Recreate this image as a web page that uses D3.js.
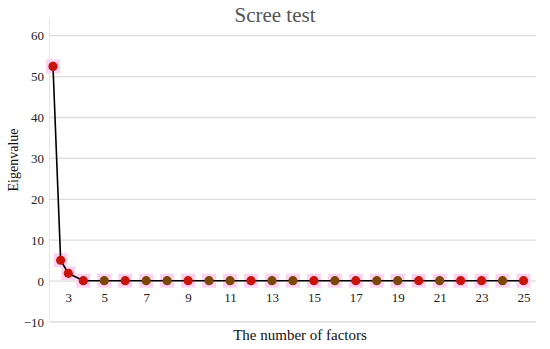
<!DOCTYPE html>
<html lang="en">
<head>
<meta charset="UTF-8">
<title>Scree test</title>
<script src="https://d3js.org/d3.v7.min.js"></script>
<style>
  body { margin: 0; background: #fff; }
  text { font-family: "Liberation Serif", "Times New Roman", serif; }
</style>
</head>
<body>
<div id="chart"></div>
<script>
// data
var factors = d3.range(1, 26);
var eigenvalues = [52.5, 5.1, 1.9, 0.1, 0.1, 0.1, 0.1, 0.1, 0.1, 0.1, 0.1, 0.1, 0.1,
                   0.1, 0.1, 0.1, 0.1, 0.1, 0.1, 0.1, 0.1, 0.1, 0.1, 0.1, 0.1];
// marker colour per point: r = red, b = brown
var markerKind = ["r", "r", "r", "r", "b", "r", "b", "b", "r", "b", "b", "r", "b",
                  "b", "r", "b", "r", "b", "b", "r", "b", "r", "r", "b", "r"];
var yTicks = [-10, 0, 10, 20, 30, 40, 50, 60];
var xTicks = [3, 5, 7, 9, 11, 13, 15, 17, 19, 21, 23, 25];

var W = 550, H = 349;
var svg = d3.select("#chart").append("svg")
    .attr("width", W).attr("height", H);

// first three factors sit squeezed against the axis in the original
var x = d3.scaleLinear().domain([1, 3, 4, 25]).range([53, 68.3, 83.3, 523.5]);
var y = d3.scaleLinear().domain([-10, 60]).range([322, 35.7]);

// grid
svg.append("g").selectAll("line")
    .data(yTicks).enter().append("line")
    .attr("x1", 50).attr("x2", 536)
    .attr("y1", function(d) { return y(d); })
    .attr("y2", function(d) { return y(d); })
    .attr("stroke", "#dcdcdc").attr("stroke-width", 1.3);

svg.append("line")
    .attr("x1", 49.5).attr("x2", 49.5).attr("y1", 18).attr("y2", 322)
    .attr("stroke", "#e6e6e6").attr("stroke-width", 1);

// y axis labels
var yAxis = svg.append("g")
    .attr("transform", "translate(46,0)")
    .call(d3.axisLeft(y).tickValues(yTicks).tickSize(0).tickPadding(2)
        .tickFormat(function(d) { return d < 0 ? "\u2212" + Math.abs(d) : d; }));
yAxis.select(".domain").remove();
yAxis.selectAll("text")
    .attr("font-family", "Liberation Serif").attr("font-size", 13).attr("fill", "#222");

// x axis labels
var xAxis = svg.append("g")
    .attr("transform", "translate(0,290)")
    .call(d3.axisBottom(x).tickValues(xTicks).tickSize(0).tickPadding(3));
xAxis.select(".domain").remove();
xAxis.selectAll("text")
    .attr("font-family", "Liberation Serif").attr("font-size", 13).attr("fill", "#222");

// pink halo boxes behind markers
svg.append("g").selectAll("rect")
    .data(factors).enter().append("rect")
    .attr("x", function(d) { return x(d) - 7; })
    .attr("y", function(d, i) { return y(eigenvalues[i]) - 7; })
    .attr("width", 14).attr("height", 14)
    .attr("fill", "#fcd2f0");

// line
var line = d3.line()
    .x(function(d) { return x(d); })
    .y(function(d, i) { return y(eigenvalues[i]); });
svg.append("path")
    .datum(factors)
    .attr("d", line)
    .attr("fill", "none")
    .attr("stroke", "#000").attr("stroke-width", 1.6);

// markers
svg.append("g").selectAll("circle")
    .data(factors).enter().append("circle")
    .attr("cx", function(d) { return x(d); })
    .attr("cy", function(d, i) { return y(eigenvalues[i]); })
    .attr("r", 4.6)
    .attr("fill", function(d, i) { return markerKind[i] == "r" ? "#c8140a" : "#7b4808"; });

// title
svg.append("text")
    .attr("x", 275).attr("y", 22)
    .attr("text-anchor", "middle")
    .attr("font-size", 21).attr("fill", "#555")
    .text("Scree test");

// axis titles
svg.append("text")
    .attr("transform", "translate(18,160) rotate(-90)")
    .attr("text-anchor", "middle")
    .attr("font-size", 14).attr("fill", "#111")
    .text("Eigenvalue");

svg.append("text")
    .attr("x", 300).attr("y", 340)
    .attr("text-anchor", "middle")
    .attr("font-size", 15).attr("fill", "#111")
    .text("The number of factors");
</script>
</body>
</html>
